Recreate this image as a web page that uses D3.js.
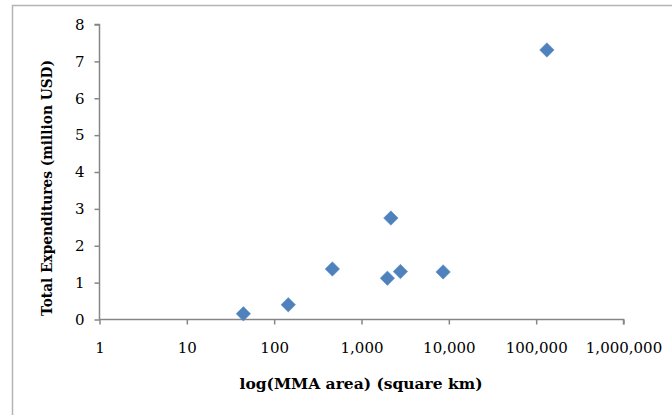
<!DOCTYPE html>
<html>
<head>
<meta charset="utf-8">
<script src="https://cdn.jsdelivr.net/npm/d3@7/dist/d3.min.js"></script>
<style>
  html, body { margin: 0; padding: 0; background: #fff; }
  svg { display: block; }
</style>
</head>
<body>
<svg id="chart" width="672" height="415"></svg>
<script>
// Data
const areas = [44.4, 145, 464, 1980, 2170, 2790, 8600, 132700];          // square km
const expenditures = [0.155, 0.40, 1.37, 1.12, 2.75, 1.30, 1.29, 7.31];   // million USD
const xTicks = [1, 10, 100, 1000, 10000, 100000, 1000000];
const yTicks = [0, 1, 2, 3, 4, 5, 6, 7, 8];
const xTitle = "log(MMA area) (square km)";
const yTitle = "Total Expenditures (million USD)";

const svg = d3.select("#chart");
const font = "'DejaVu Serif', 'Liberation Serif', serif";
const axisColor = "#868686";

// frame
svg.append("rect")
  .attr("x", 12.5).attr("y", 5.5)
  .attr("width", 700).attr("height", 500)
  .attr("fill", "none").attr("stroke", "#b4b4b4").attr("stroke-width", 1.5);

const x = d3.scaleLog().domain([1, 1000000]).range([99.5, 623.5]);
const y = d3.scaleLinear().domain([0, 8]).range([319.5, 24.5]);

// y axis
const yAxis = svg.append("g").attr("transform", "translate(99.5,0)")
  .call(d3.axisLeft(y).tickValues(yTicks).tickSize(5).tickPadding(10).tickFormat(d3.format("d")));
// x axis
const xAxis = svg.append("g").attr("transform", "translate(0,319.5)")
  .call(d3.axisBottom(x).tickValues(xTicks).tickSize(5).tickPadding(18).tickFormat(d3.format(",")));

[xAxis, yAxis].forEach(g => {
  g.select(".domain").attr("stroke", axisColor).attr("stroke-width", 1.5);
  g.selectAll(".tick line").attr("stroke", axisColor).attr("stroke-width", 1.5);
  g.selectAll(".tick text").attr("fill", "#000").attr("font-family", font).attr("font-size", 15);
});
yAxis.select(".domain").attr("d", `M-5,${y(8)}H0V${y(0)}`);
xAxis.select(".domain").attr("d", `M${x(1)},0H${x(1000000)}V5`);

// points (diamonds)
const diamond = d3.symbol().type(d3.symbolSquare).size(105);
svg.append("g").selectAll("path")
  .data(areas.map((a, i) => [a, expenditures[i]]))
  .join("path")
  .attr("d", diamond)
  .attr("transform", d => `translate(${x(d[0])},${y(d[1])}) rotate(45)`)
  .attr("fill", "#4f81bd")
  .attr("stroke", "#5b8ec8")
  .attr("stroke-width", 0.5);

// axis titles
svg.append("text")
  .attr("x", 361).attr("y", 389)
  .attr("text-anchor", "middle")
  .attr("font-family", font).attr("font-weight", "bold").attr("font-size", 15)
  .attr("textLength", 243).attr("lengthAdjust", "spacingAndGlyphs")
  .text(xTitle);

svg.append("text")
  .attr("transform", "translate(52,188) rotate(-90)")
  .attr("text-anchor", "middle")
  .attr("font-family", font).attr("font-weight", "bold").attr("font-size", 15)
  .attr("textLength", 256).attr("lengthAdjust", "spacingAndGlyphs")
  .text(yTitle);
</script>
</body>
</html>
